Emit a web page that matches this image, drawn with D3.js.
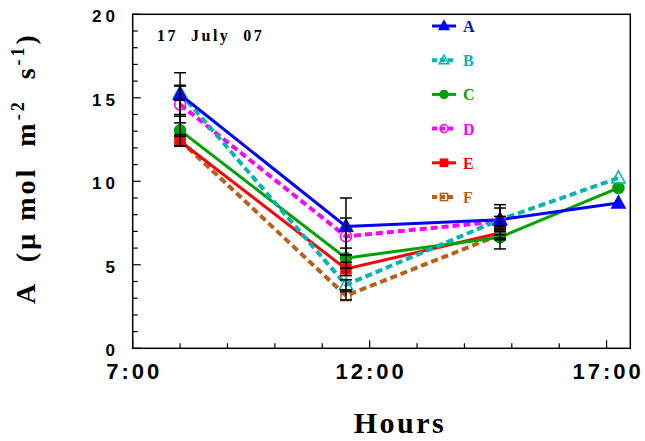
<!DOCTYPE html>
<html><head><meta charset="utf-8">
<script src="https://cdn.jsdelivr.net/npm/d3@7"></script>
<style>html,body{margin:0;padding:0;background:#fff;}svg{display:block;}</style>
</head><body>
<svg id="chart" width="645" height="441"></svg>
<script>
// ---- data ----
const hours = [8.0, 11.5, 14.75, 17.25];
const seriesNames = ["A", "B", "C", "D", "E", "F"];
const valuesA = [15.2, 7.3, 7.7, 8.7];
const valuesB = [15.3, 3.8, 7.7, 10.2];
const valuesC = [13.05, 5.4, 6.65, 9.6];
const valuesD = [14.6, 6.7, 7.6, null];
const valuesE = [12.4, 4.75, 6.9, null];
const valuesF = [12.45, 3.15, 6.8, null];
const errorsA = [1.3, 1.7, 0.9, null];
const errorsB = [0.45, 0.3, 0.7, null];
const errorsC = [0.95, 0.6, 0.7, null];
const errorsD = [1.1, 1.1, 0.3, null];
const errorsE = [0.3, 0.4, 0.3, null];
const errorsF = [0.35, 0.25, 0.3, null];
const xTickLabels = ["7:00", "12:00", "17:00"];
const yTickLabels = [0, 5, 10, 15, 20];
const dateLabel = "17  July  07";

const colors = {A:"#0000ff", B:"#00b4b4", C:"#00a000", D:"#ff00ff", E:"#ff0000", F:"#b5611c"};
const dashed = {A:false, B:true, C:false, D:true, E:false, F:true};
const markerType = {A:"triangle", B:"triangle", C:"circle", D:"circle", E:"square", F:"square"};
const filled = {A:true, B:false, C:true, D:false, E:true, F:false};
const valuesMap = {A:valuesA, B:valuesB, C:valuesC, D:valuesD, E:valuesE, F:valuesF};
const errorsMap = {A:errorsA, B:errorsB, C:errorsC, D:errorsD, E:errorsE, F:errorsF};

const svg = d3.select("#chart");
const L = 132.7, R = 630.3, T = 14.3, B = 348.3;
const x = d3.scaleLinear().domain([7, 17.5]).range([L, R]);
const y = d3.scaleLinear().domain([0, 20]).range([B, T]);

// frame
svg.append("rect").attr("x", L).attr("y", T).attr("width", R - L).attr("height", B - T)
  .attr("fill", "none").attr("stroke", "#000").attr("stroke-width", 1.5);

// x ticks (inward)
const xt = d3.range(7, 17.01, 1);
svg.append("g").selectAll("line").data(xt).join("line")
  .attr("x1", d => x(d)).attr("x2", d => x(d))
  .attr("y1", B).attr("y2", d => B - ((d - 7) % 5 === 0 ? 8 : 5))
  .attr("stroke", "#000").attr("stroke-width", 1.2);
svg.append("g").selectAll("text").data(xTickLabels).join("text")
  .attr("x", (d, i) => x(7 + i * 5) + 1.5).attr("y", 379)
  .attr("text-anchor", "middle")
  .style("font-family", "Liberation Sans, Arial, sans-serif").style("font-weight", "bold")
  .style("font-size", "22px").style("letter-spacing", "3px")
  .text(d => d);

// y ticks (inward)
const yt = d3.range(0, 20.01, 1);
svg.append("g").selectAll("line").data(yt).join("line")
  .attr("y1", d => y(d)).attr("y2", d => y(d))
  .attr("x1", L).attr("x2", d => L + (d % 5 === 0 ? 8 : 5))
  .attr("stroke", "#000").attr("stroke-width", 1.2);
svg.append("g").selectAll("text").data(yTickLabels).join("text")
  .attr("x", 119).attr("y", d => y(d) + 8)
  .attr("text-anchor", "end")
  .style("font-family", "Liberation Sans, Arial, sans-serif").style("font-weight", "bold")
  .style("font-size", "17px").style("letter-spacing", "4px")
  .text(d => d);

// axis titles
svg.append("text").attr("x", 400).attr("y", 433).attr("text-anchor", "middle")
  .style("font-family", "Liberation Serif, Times New Roman, serif").style("font-weight", "bold")
  .style("font-size", "30px").style("letter-spacing", "2.5px").text("Hours");

const yt2 = svg.append("text").attr("transform", "translate(35,168) rotate(-90)")
  .attr("text-anchor", "middle")
  .style("font-family", "Liberation Serif, Times New Roman, serif").style("font-weight", "bold")
  .style("font-size", "28px").style("letter-spacing", "3px")
  .style("white-space", "pre");
yt2.append("tspan").text("A  (\u00b5 mol  m");
yt2.append("tspan").attr("dy", -11).style("font-size", "18px").text("-2");
yt2.append("tspan").attr("dy", 11).text("  s");
yt2.append("tspan").attr("dy", -11).style("font-size", "18px").text("-1");
yt2.append("tspan").attr("dy", 11).text(")");

svg.append("text").attr("x", 157).attr("y", 41)
  .style("font-family", "Liberation Serif, Times New Roman, serif").style("font-weight", "bold")
  .style("font-size", "16px").style("letter-spacing", "2.5px").style("white-space", "pre")
  .text(dateLabel);

function drawMarker(g, type, cx, cy, color, fill, s) {
  if (type === "triangle") {
    g.append("path").attr("d", `M${cx},${cy - s * 0.65}L${cx + s * 0.6},${cy + s * 0.45}L${cx - s * 0.6},${cy + s * 0.45}Z`)
      .attr("fill", fill ? color : "none").attr("stroke", color).attr("stroke-width", 1.5);
  } else if (type === "circle") {
    g.append("circle").attr("cx", cx).attr("cy", cy).attr("r", s * 0.5)
      .attr("fill", fill ? color : "none").attr("stroke", color).attr("stroke-width", 1.5);
  } else {
    g.append("rect").attr("x", cx - s * 0.45).attr("y", cy - s * 0.45).attr("width", s * 0.9).attr("height", s * 0.9)
      .attr("fill", fill ? color : "none").attr("stroke", color).attr("stroke-width", 1.5);
  }
}

const line = d3.line().defined(d => d.v != null).x(d => x(d.h)).y(d => y(d.v));
const plot = svg.append("g");
[...seriesNames].reverse().forEach(name => {
  const data = hours.map((h, i) => ({h, v: valuesMap[name][i]}));
  plot.append("path").datum(data).attr("d", line)
    .attr("fill", "none").attr("stroke", colors[name]).attr("stroke-width", dashed[name] ? 4 : 3)
    .attr("stroke-dasharray", dashed[name] ? "7,4" : null);
});
[...seriesNames].reverse().forEach(name => {
  hours.forEach((h, i) => {
    const v = valuesMap[name][i];
    if (v == null) return;
    drawMarker(plot, markerType[name], x(h), y(v), colors[name], filled[name], 11);
  });
});
// error bars
const eb = svg.append("g").attr("stroke", "#000").attr("stroke-width", 1.5);
seriesNames.forEach(name => {
  hours.forEach((h, i) => {
    const v = valuesMap[name][i], e = errorsMap[name][i];
    if (v == null || e == null) return;
    const cx = x(h);
    eb.append("line").attr("x1", cx).attr("x2", cx).attr("y1", y(v - e)).attr("y2", y(v + e));
    [v - e, v + e].forEach(c => eb.append("line").attr("x1", cx - 6).attr("x2", cx + 6).attr("y1", y(c)).attr("y2", y(c)));
  });
});

// legend
const lg = svg.append("g");
seriesNames.forEach((name, i) => {
  const ly = 26 + i * 34.2;
  lg.append("line").attr("x1", 432).attr("x2", 456).attr("y1", ly).attr("y2", ly)
    .attr("stroke", colors[name]).attr("stroke-width", dashed[name] ? 4 : 3)
    .attr("stroke-dasharray", dashed[name] ? "5,3" : null);
  drawMarker(lg, markerType[name], 444, ly, colors[name], filled[name], 8);
  lg.append("text").attr("x", 463).attr("y", ly + 6).attr("fill", colors[name])
    .style("font-family", "Liberation Serif, Times New Roman, serif").style("font-weight", "bold")
    .style("font-size", "16px").text(name);
});
</script>
</body></html>
